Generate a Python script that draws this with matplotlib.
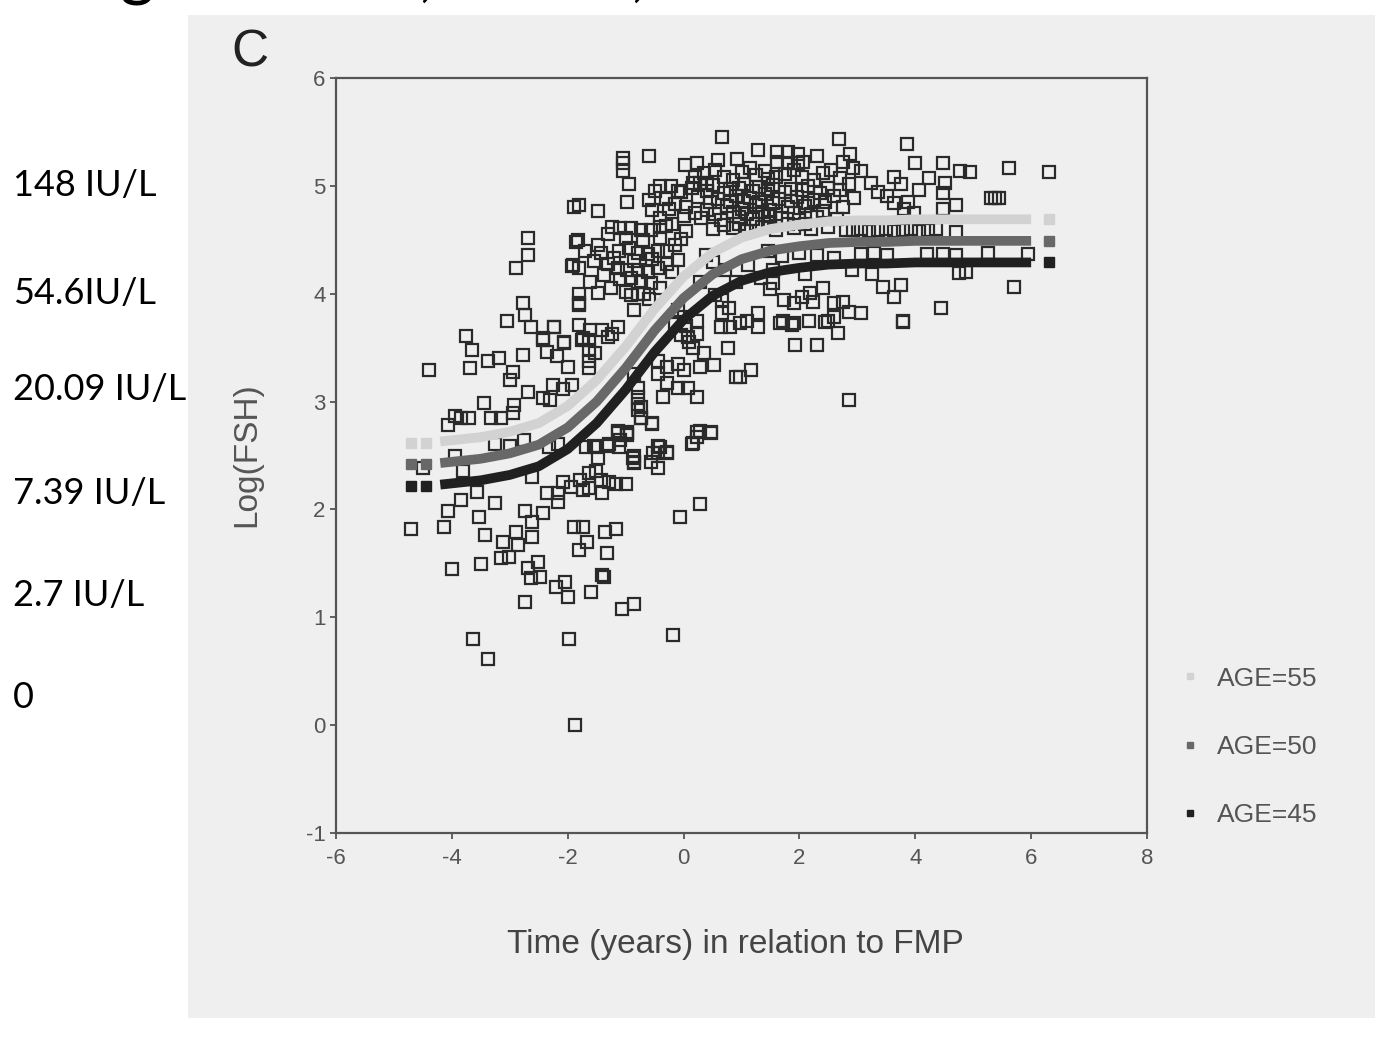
import matplotlib
matplotlib.use("Agg")
import matplotlib.pyplot as plt
import numpy as np
from matplotlib.lines import Line2D
from matplotlib.patches import Rectangle

plt.rcParams['font.family'] = ['Liberation Sans', 'DejaVu Sans']
plt.rcParams['axes.unicode_minus'] = False

# --- data -------------------------------------------------------------
# individual observations: (time in years relative to FMP, log FSH)
observations = [
    # lower left cloud
    (-4.40, 3.29), (-3.75, 3.61), (-3.66, 3.48), (-3.69, 3.31), (-3.37, 3.38), (-3.19, 3.40),
    (-3.04, 3.75), (-2.78, 3.43), (-2.78, 3.91), (-2.73, 3.80), (-2.64, 3.69), (-2.43, 3.57),
    (-2.23, 3.69), (-2.07, 3.54), (-1.81, 3.90), (-1.81, 3.71), (-1.76, 3.57), (-1.64, 3.57),
    (-1.64, 3.48), (-1.64, 3.38), (-1.64, 3.31), (-1.40, 3.66), (-1.23, 3.63), (-1.14, 3.69),
    (-2.00, 3.32), (-2.95, 3.27), (-2.99, 3.20), (-2.68, 3.09), (-2.26, 3.15), (-2.09, 3.12),
    (-1.92, 3.15), (-2.42, 3.03), (-2.30, 3.01), (-3.45, 2.99), (-2.93, 2.97), (-2.95, 2.89),
    (-3.33, 2.85), (-3.16, 2.85), (-3.94, 2.87), (-3.85, 2.85), (-3.71, 2.85), (-4.06, 2.78),
    (-3.25, 2.61), (-2.99, 2.59), (-2.76, 2.64), (-3.95, 2.50), (-4.49, 2.38), (-3.81, 2.36),
    (-2.61, 2.30), (-2.33, 2.58), (-2.16, 2.61), (-1.69, 2.58), (-1.52, 2.58), (-1.47, 2.48),
    (-1.29, 2.61), (-1.14, 2.73), (-0.97, 2.69), (-1.12, 2.58), (-0.88, 2.48), (-0.86, 2.43),
    (-2.09, 2.25), (-1.95, 2.21), (-1.78, 2.27), (-1.64, 2.34), (-1.52, 2.36), (-1.43, 2.27),
    (-1.29, 2.25), (-1.17, 2.24), (-1.00, 2.24), (-2.35, 2.15), (-2.16, 2.15), (-2.16, 2.07),
    (-1.74, 2.18), (-1.64, 2.20), (-1.40, 2.15), (-3.56, 2.16), (-3.85, 2.09), (-4.06, 1.99),
    (-3.25, 2.06), (-3.54, 1.93), (-2.73, 1.99), (-2.61, 1.88), (-2.43, 1.97), (-4.71, 1.82),
    (-4.13, 1.84), (-3.42, 1.76), (-3.12, 1.70), (-2.90, 1.79), (-2.85, 1.67), (-2.61, 1.74),
    (-3.16, 1.55), (-3.02, 1.56), (-1.90, 1.84), (-1.74, 1.84), (-1.36, 1.79), (-1.17, 1.82),
    (-1.81, 1.62), (-1.66, 1.70), (-1.33, 1.60), (-3.99, 1.45), (-3.49, 1.49), (-2.69, 1.46),
    (-2.52, 1.51), (-2.64, 1.36), (-2.47, 1.37), (-2.21, 1.28), (-2.04, 1.33), (-2.00, 1.19),
    (-1.59, 1.23), (-1.40, 1.39), (-1.38, 1.37), (-2.73, 1.14), (-1.07, 1.08), (-0.86, 1.12),
    (-3.64, 0.80), (-3.38, 0.61), (-1.97, 0.80), (-1.88, 0.00), (-0.19, 0.84),
    # centre, below the curves
    (-0.79, 2.98), (-0.79, 2.92), (-0.74, 2.85), (-0.54, 2.79), (-0.97, 2.71), (-0.86, 2.50),
    (-0.86, 2.44), (-0.41, 2.58), (-0.28, 2.52), (-0.52, 2.52), (-0.57, 2.44), (-0.45, 2.38),
    (0.28, 2.73), (0.48, 2.71), (0.24, 2.67), (0.14, 2.61), (0.28, 2.05), (-0.07, 1.93),
    # centre, upper part
    (0.67, 5.45), (-1.04, 5.26), (-1.04, 5.21), (-1.04, 5.14), (-0.95, 5.02), (-0.60, 5.28),
    (0.03, 5.19), (0.24, 5.21), (0.59, 5.24), (0.93, 5.25), (1.29, 5.33), (-0.40, 5.00),
    (-0.22, 5.00), (-0.05, 4.94), (0.17, 5.03), (0.29, 5.03), (0.41, 5.03), (-1.90, 4.80),
    (-1.80, 4.82), (-1.48, 4.77), (-0.97, 4.85), (-0.60, 4.87), (-0.26, 4.79), (-1.23, 4.62),
    (-1.09, 4.61), (-0.91, 4.61), (-0.74, 4.59), (-0.57, 4.59), (-0.40, 4.62), (-0.31, 4.63),
    (-0.05, 4.51), (-1.83, 4.50), (-1.85, 4.48), (-1.47, 4.45), (-1.43, 4.38), (-1.12, 4.40),
    (-0.95, 4.42), (-0.79, 4.38), (-0.62, 4.37), (-0.45, 4.40), (-0.28, 4.40), (-1.93, 4.26),
    (-1.91, 4.27), (-1.81, 4.24), (-1.31, 4.28), (-1.14, 4.24), (-0.97, 4.22), (-0.79, 4.22),
    (-0.62, 4.20), (-0.45, 4.24), (-0.28, 4.28), (-0.10, 4.31), (-1.61, 4.11), (-1.47, 4.01),
    (-1.38, 4.17), (-1.09, 4.14), (-0.91, 4.15), (-0.74, 4.12), (-0.57, 4.10), (-1.81, 4.00),
    (-1.81, 3.91), (-0.91, 3.99), (-0.79, 4.00), (-0.69, 4.00), (-0.86, 3.85), (-2.24, 3.69),
    (-2.07, 3.55), (-2.42, 3.59), (-1.74, 3.59), (-1.61, 3.66), (-1.31, 3.60), (-1.53, 3.45),
    (-2.18, 3.42), (-2.35, 3.46), (-2.69, 4.52), (-2.69, 4.36), (-2.90, 4.24),
    (-0.50, 4.95), (-0.30, 4.88), (-0.15, 4.83), (0.00, 4.72), (-0.40, 4.70), (-0.20, 4.65),
    (-0.55, 4.78), (0.05, 4.58), (-0.10, 4.95),
    (-1.30, 4.55), (-1.00, 4.52), (-0.70, 4.50), (-0.40, 4.52), (-0.15, 4.45), (-1.20, 4.33),
    (-0.85, 4.30), (-0.55, 4.32), (-0.20, 4.20), (-1.25, 4.05), (-1.00, 4.02), (-0.60, 3.95),
    (-0.40, 4.05), (-1.55, 4.30), (-1.70, 4.40),
    # centre, right of the rise
    (0.67, 3.94), (0.78, 3.87), (0.67, 3.82), (0.64, 3.69), (0.81, 3.69), (0.98, 3.73),
    (1.10, 3.75), (1.28, 3.82), (1.28, 3.69), (0.76, 3.50), (0.98, 3.23), (1.16, 3.29),
    (0.24, 3.75), (0.24, 3.63), (0.07, 3.60), (0.17, 3.50), (0.35, 3.45), (0.52, 3.34),
    (0.29, 3.32), (-0.10, 3.85), (0.00, 3.78), (0.05, 3.70), (-0.05, 3.62), (0.10, 3.55),
    (-0.15, 3.72), (-0.45, 3.38), (-0.28, 3.32), (-0.10, 3.35), (0.00, 3.29), (-0.45, 3.26),
    (-0.28, 3.17), (-0.10, 3.13), (0.07, 3.13), (0.24, 3.04), (-0.35, 3.04), (-0.86, 3.26),
    (-0.79, 3.13), (-0.78, 3.04), (-0.74, 2.95), (-0.74, 2.85), (-0.54, 2.80), (0.24, 2.72),
    (0.47, 2.72), (0.17, 2.62), (-1.14, 2.71), (-0.97, 2.72), (-1.09, 2.64), (-1.31, 2.59),
    (-1.55, 2.59), (-0.45, 2.59), (-0.28, 2.53), (-0.45, 2.52), (0.90, 3.23),
    (0.38, 4.36), (0.50, 4.29), (0.72, 4.22), (0.90, 4.11), (1.12, 4.27), (1.33, 4.15),
    (1.50, 4.04), (0.29, 4.11), (0.55, 3.99), (1.45, 4.40), (1.70, 4.35), (2.00, 4.38),
    (2.30, 4.36), (2.60, 4.33), (2.90, 4.22), (1.55, 4.22), (2.10, 4.18),
    # dense plateau cluster
    (0.35, 5.12), (0.70, 5.08), (1.00, 5.13), (1.25, 5.10), (1.45, 5.06), (1.75, 5.11),
    (2.05, 5.08), (2.40, 5.12), (2.70, 5.07), (0.15, 4.98), (0.50, 5.01), (0.80, 4.97),
    (1.05, 5.02), (1.30, 4.99), (1.55, 5.01), (1.85, 4.97), (2.15, 5.00), (2.50, 4.98),
    (2.85, 5.02), (0.25, 4.90), (0.60, 4.88), (0.90, 4.91), (1.15, 4.89), (1.40, 4.92),
    (1.65, 4.88), (1.95, 4.90), (2.25, 4.87), (2.60, 4.91), (2.95, 4.89), (0.05, 4.80),
    (0.40, 4.78), (0.75, 4.81), (1.00, 4.79), (1.25, 4.82), (1.50, 4.78), (1.80, 4.80),
    (2.10, 4.81), (2.40, 4.77), (2.75, 4.80), (0.30, 4.70), (0.65, 4.68), (0.95, 4.71),
    (1.20, 4.69), (1.45, 4.72), (1.70, 4.70), (2.00, 4.68), (2.30, 4.71), (2.65, 4.69),
    (0.50, 4.60), (0.85, 4.61), (1.10, 4.58), (1.35, 4.62), (1.60, 4.59), (1.90, 4.61),
    (2.20, 4.60), (2.50, 4.62), (2.80, 4.59),
    (0.20, 5.08), (0.55, 5.15), (0.85, 5.05), (1.15, 5.17), (1.40, 5.14), (1.60, 5.08),
    (1.90, 5.15), (2.25, 5.05), (2.55, 5.15), (0.40, 4.95), (0.70, 4.93), (0.95, 4.98),
    (1.20, 4.95), (1.45, 4.97), (1.75, 4.94), (2.05, 4.96), (2.35, 4.93), (2.70, 4.96),
    (0.45, 4.85), (0.80, 4.85), (1.05, 4.86), (1.30, 4.85), (1.55, 4.84), (1.85, 4.86),
    (2.15, 4.84), (2.45, 4.85), (0.20, 4.75), (0.55, 4.74), (0.85, 4.76), (1.10, 4.74),
    (1.35, 4.76), (1.60, 4.74), (1.90, 4.75), (2.20, 4.74), (0.70, 4.64), (0.95, 4.65),
    (1.25, 4.65), (1.50, 4.66), (1.80, 4.65), (2.10, 4.65),
    # right part
    (2.69, 5.43), (3.85, 5.39), (4.00, 5.21), (4.47, 5.21), (4.78, 5.14), (4.95, 5.13),
    (5.61, 5.17), (6.30, 5.13), (5.30, 4.89), (5.38, 4.89), (5.45, 4.89), (4.52, 5.03),
    (4.47, 4.93), (4.47, 4.79), (4.70, 4.82), (4.23, 5.07), (4.06, 4.96), (3.87, 4.85),
    (3.75, 5.02), (3.63, 5.08), (3.23, 5.03), (3.35, 4.94), (3.52, 4.91), (3.63, 4.84),
    (3.80, 4.79), (3.97, 4.75), (2.88, 5.30), (2.76, 5.22), (2.93, 5.17), (3.06, 5.14),
    (2.31, 5.28), (1.62, 5.31), (1.80, 5.31), (1.97, 5.30), (1.62, 5.22), (1.80, 5.21),
    (1.97, 5.21), (2.07, 5.22), (3.26, 4.18), (3.45, 4.06), (3.63, 3.97), (3.75, 4.08),
    (4.44, 3.87), (3.78, 3.75), (4.75, 4.19), (4.87, 4.20), (5.71, 4.06), (3.06, 3.82),
    (1.55, 4.10), (1.73, 3.94), (1.90, 3.91), (2.05, 3.97), (2.19, 4.01), (2.40, 4.05),
    (2.24, 3.92), (2.49, 3.75), (2.59, 3.91), (2.76, 3.92), (2.85, 3.83), (2.59, 3.78),
    (1.71, 3.75), (1.90, 3.73), (2.16, 3.75), (1.67, 3.73), (1.88, 3.71), (2.45, 3.74),
    (2.66, 3.64), (3.78, 3.74), (1.93, 3.52), (2.31, 3.52), (2.85, 3.01),
    (2.93, 4.59), (3.06, 4.60), (3.20, 4.58), (3.35, 4.59), (3.49, 4.60), (3.64, 4.58),
    (3.78, 4.59), (3.93, 4.60), (4.07, 4.58), (4.22, 4.59), (4.36, 4.60), (4.71, 4.57),
    (3.06, 4.37), (3.28, 4.38), (3.52, 4.36), (4.21, 4.37), (4.47, 4.37), (4.70, 4.36),
    (5.25, 4.38), (5.94, 4.37),
]

# fitted curves per age, read at these times
curve_time = [-4.7, -4.45, -4.2, -3.5, -3.0, -2.5, -2.0, -1.5, -1.0, -0.5, 0.0, 0.5,
              1.0, 1.5, 2.0, 2.5, 3.0, 3.5, 4.0, 4.5, 5.0, 5.5, 6.0, 6.3]
fsh_age45 = [2.22, 2.22, 2.23, 2.27, 2.32, 2.40, 2.56, 2.80, 3.11, 3.46, 3.76, 3.98,
             4.12, 4.20, 4.24, 4.27, 4.28, 4.28, 4.29, 4.29, 4.29, 4.29, 4.29, 4.29]
fsh_age50 = [2.42, 2.42, 2.43, 2.47, 2.52, 2.60, 2.76, 3.00, 3.31, 3.66, 3.96, 4.18,
             4.32, 4.40, 4.44, 4.47, 4.48, 4.48, 4.49, 4.49, 4.49, 4.49, 4.49, 4.49]
fsh_age55 = [2.62, 2.62, 2.63, 2.67, 2.72, 2.80, 2.96, 3.20, 3.51, 3.86, 4.16, 4.38,
             4.52, 4.60, 4.64, 4.67, 4.68, 4.68, 4.69, 4.69, 4.69, 4.69, 4.69, 4.69]
age_labels = ['AGE=55', 'AGE=50', 'AGE=45']

side_notes = ['148 IU/L', '54.6IU/L', '20.09 IU/L', '7.39 IU/L', '2.7 IU/L', '0']

W, H = 1375, 1045


def fx(px):
    return px / W


def fy(py):
    return 1 - py / H


fig = plt.figure(figsize=(W / 100, H / 100), dpi=100)
fig.patch.set_facecolor('white')

# scanned page background
page = Rectangle((fx(188), fy(1018)), 1 - fx(188), fy(15) - fy(1018),
                 transform=fig.transFigure, facecolor='#efefef', edgecolor='none')
page.set_zorder(-10)
fig.add_artist(page)

ax = fig.add_axes([fx(336), fy(833), (1147 - 336) / W, (833 - 78) / H])
ax.set_zorder(5)
ax.patch.set_alpha(0)
ax.set_xlim(-6, 8)
ax.set_ylim(-1, 6)
ax.set_xticks(range(-6, 9, 2))
ax.set_yticks(range(-1, 7))

for side in ax.spines.values():
    side.set_color('#555555')
    side.set_linewidth(1.6)
ax.tick_params(direction='out', length=4.5, width=1.3, color='#555555',
               labelcolor='#555555', labelsize=16)
ax.tick_params(axis='x', pad=6)
ax.tick_params(axis='y', pad=3)

obs = np.array(observations)
ax.plot(obs[:, 0], obs[:, 1], 's', ms=8.2, mfc='none', mec='#2a2a2a', mew=1.6, zorder=2)

ct = np.array(curve_time)
curves = [(fsh_age55, '#d2d2d2'), (fsh_age50, '#686868'), (fsh_age45, '#202020')]
handles = []
for vals, col in curves:
    v = np.array(vals)
    ax.plot(ct[2:-1], v[2:-1], color=col, lw=7, solid_capstyle='butt', zorder=3)
    ax.plot(ct[[0, 1, -1]], v[[0, 1, -1]], 's', ms=6.5, color=col, zorder=3)
    handles.append(Line2D([], [], marker='s', ls='none', ms=5, color=col))

ax.legend(handles, age_labels, loc='center left', bbox_to_anchor=(fx(1156), fy(747)),
          bbox_transform=fig.transFigure, frameon=False, fontsize=19,
          labelspacing=1.68, handletextpad=0.6, handlelength=0.8, labelcolor='#555555')

fig.text(fx(250), fy(53), 'C', fontsize=37, ha='center', va='center', color='#222222')
fig.text(fx(247), fy(455), 'Log(FSH)', rotation=90, fontsize=24, ha='center',
         va='center', color='#555555')
fig.text(fx(735), fy(945), 'Time (years) in relation to FMP', fontsize=24,
         ha='center', va='center', color='#444444')

note_y = [186, 293, 389, 493, 595, 698]
for txt, py in zip(side_notes, note_y):
    fig.text(fx(13), fy(py), txt, fontsize=26, family=['Lato', 'DejaVu Sans'],
             ha='left', va='center', color='black')

# descenders of the cut-off slide title
for txt, px in [('g', 120), (',', 418), (',', 630)]:
    fig.text(fx(px), 1.006, txt, fontsize=48, family=['Lato', 'DejaVu Sans'],
             ha='left', va='baseline', color='black')

fig.savefig('out.png', dpi=100)
